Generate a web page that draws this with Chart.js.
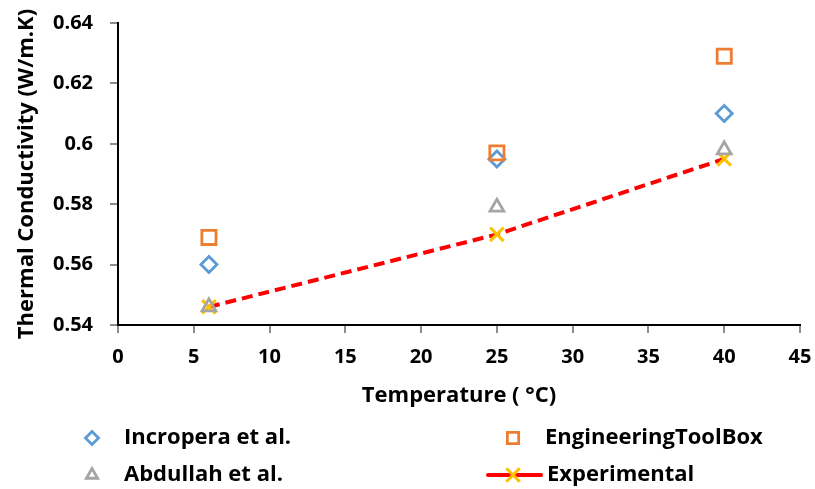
<!DOCTYPE html>
<html>
<head>
<meta charset="utf-8">
<script src="https://cdn.jsdelivr.net/npm/chart.js@4.4.0/dist/chart.umd.min.js"></script>
<style>
  html, body { margin: 0; padding: 0; background: #fff; }
  #wrap { width: 815px; height: 489px; }
</style>
</head>
<body>
<div id="wrap"><canvas id="kChart"></canvas></div>
<script>
// Temperatures (°C) and thermal conductivity values (W/m.K)
const temps = [6, 25, 40];
const incropera = [0.560, 0.595, 0.610];
const toolBox = [0.569, 0.597, 0.629];
const abdullah = [0.546, 0.579, 0.598];
const experimental = [0.546, 0.570, 0.595];
const xTicks = [0, 5, 10, 15, 20, 25, 30, 35, 40, 45];
const yTicks = [0.54, 0.56, 0.58, 0.6, 0.62, 0.64];

const FONT = '"Open Sans", Lato, sans-serif';

function points(vals) {
    return temps.map((t, i) => ({ x: t, y: vals[i] }));
}

// two-column legend drawn under the axis title
const gridLegend = {
    id: 'gridLegend',
    afterDraw(chart) {
        const ctx = chart.ctx;
        const cols = [92, 513];
        const rows = [438, 475];
        ctx.save();
        ctx.font = 'bold 22px ' + FONT;
        ctx.textBaseline = 'middle';
        chart.data.datasets.forEach((ds, n) => {
            const cx = cols[n % 2];
            const cy = rows[Math.floor(n / 2)];
            if (ds.showLine) {
                ctx.save();
                ctx.strokeStyle = ds.borderColor;
                ctx.lineWidth = ds.borderWidth;
                ctx.lineCap = 'round';
                ctx.beginPath();
                ctx.moveTo(cx - 25, cy);
                ctx.lineTo(cx + 28, cy);
                ctx.stroke();
                ctx.restore();
            }
            ctx.save();
            ctx.strokeStyle = ds.pointBorderColor;
            ctx.fillStyle = 'rgba(0,0,0,0)';
            ctx.lineWidth = ds.pointBorderWidth;
            Chart.helpers.drawPoint(ctx, {
                pointStyle: ds.pointStyle,
                radius: ds.legendRadius,
                rotation: 0,
                borderWidth: ds.pointBorderWidth
            }, cx, cy);
            ctx.restore();
            ctx.fillStyle = '#000';
            ctx.fillText(ds.label, cx + (ds.showLine ? 34 : 32), cy);
        });
        ctx.restore();
    }
};

new Chart(document.getElementById('kChart').getContext('2d'), {
    type: 'scatter',
    data: {
        datasets: [
            {
                label: 'Incropera et al.',
                data: points(incropera),
                pointStyle: 'rectRot',
                pointRadius: 8,
                legendRadius: 6.5,
                pointBorderWidth: 2.8,
                pointBorderColor: '#5B9BD5',
                pointBackgroundColor: 'rgba(0,0,0,0)',
                order: 2
            },
            {
                label: 'EngineeringToolBox',
                data: points(toolBox),
                pointStyle: 'rect',
                pointRadius: 10,
                legendRadius: 8,
                pointBorderWidth: 2.8,
                pointBorderColor: '#ED7D31',
                pointBackgroundColor: 'rgba(0,0,0,0)',
                order: 1
            },
            {
                label: 'Abdullah et al.',
                data: points(abdullah),
                pointStyle: 'triangle',
                pointRadius: 8,
                legendRadius: 6.5,
                pointBorderWidth: 2.8,
                pointBorderColor: '#A5A5A5',
                pointBackgroundColor: 'rgba(0,0,0,0)',
                order: 3
            },
            {
                label: 'Experimental',
                data: points(experimental),
                showLine: true,
                borderColor: '#FF0000',
                borderWidth: 4,
                borderDash: [11, 6],
                pointStyle: 'crossRot',
                pointRadius: 9.5,
                legendRadius: 9.5,
                pointBorderWidth: 3,
                pointBorderColor: '#FFC000',
                pointBackgroundColor: '#FFC000',
                order: 4
            }
        ]
    },
    options: {
        responsive: true,
        maintainAspectRatio: false,
        animation: false,
        layout: { padding: { top: 23, right: 15, bottom: 80, left: 0 } },
        plugins: {
            legend: { display: false },
            tooltip: { enabled: false }
        },
        scales: {
            x: {
                type: 'linear',
                min: 0,
                max: 45,
                afterBuildTicks(scale) {
                    scale.ticks = xTicks.map(v => ({ value: v }));
                },
                afterFit(scale) {
                    scale.height = 84;
                    scale.paddingLeft = 0;
                    scale.paddingRight = 0;
                },
                border: { color: '#000', width: 2 },
                grid: { drawOnChartArea: false, drawTicks: true, tickLength: 8, tickColor: '#8c8c8c', lineWidth: 2 },
                ticks: { color: '#000', padding: 12, font: { family: FONT, size: 20, weight: 'bold' } },
                title: {
                    display: true,
                    text: 'Temperature ( °C)',
                    color: '#000',
                    padding: { top: 6, bottom: 0 },
                    font: { family: FONT, size: 22, weight: 'bold' }
                }
            },
            y: {
                min: 0.54,
                max: 0.64,
                afterBuildTicks(scale) {
                    scale.ticks = yTicks.map(v => ({ value: v }));
                },
                afterFit(scale) {
                    scale.width = 118;
                    scale.paddingTop = 0;
                    scale.paddingBottom = 0;
                },
                border: { color: '#000', width: 2 },
                grid: { drawOnChartArea: false, drawTicks: true, tickLength: 8, tickColor: '#8c8c8c', lineWidth: 2 },
                ticks: {
                    color: '#000',
                    padding: 17,
                    font: { family: FONT, size: 20, weight: 'bold' },
                    callback: v => String(Math.round(v * 100) / 100)
                },
                title: {
                    display: true,
                    text: 'Thermal Conductivity (W/m.K)',
                    color: '#000',
                    padding: { top: 14, bottom: 0 },
                    font: { family: FONT, size: 22, weight: 'bold' }
                }
            }
        }
    },
    plugins: [gridLegend]
});
</script>
</body>
</html>
